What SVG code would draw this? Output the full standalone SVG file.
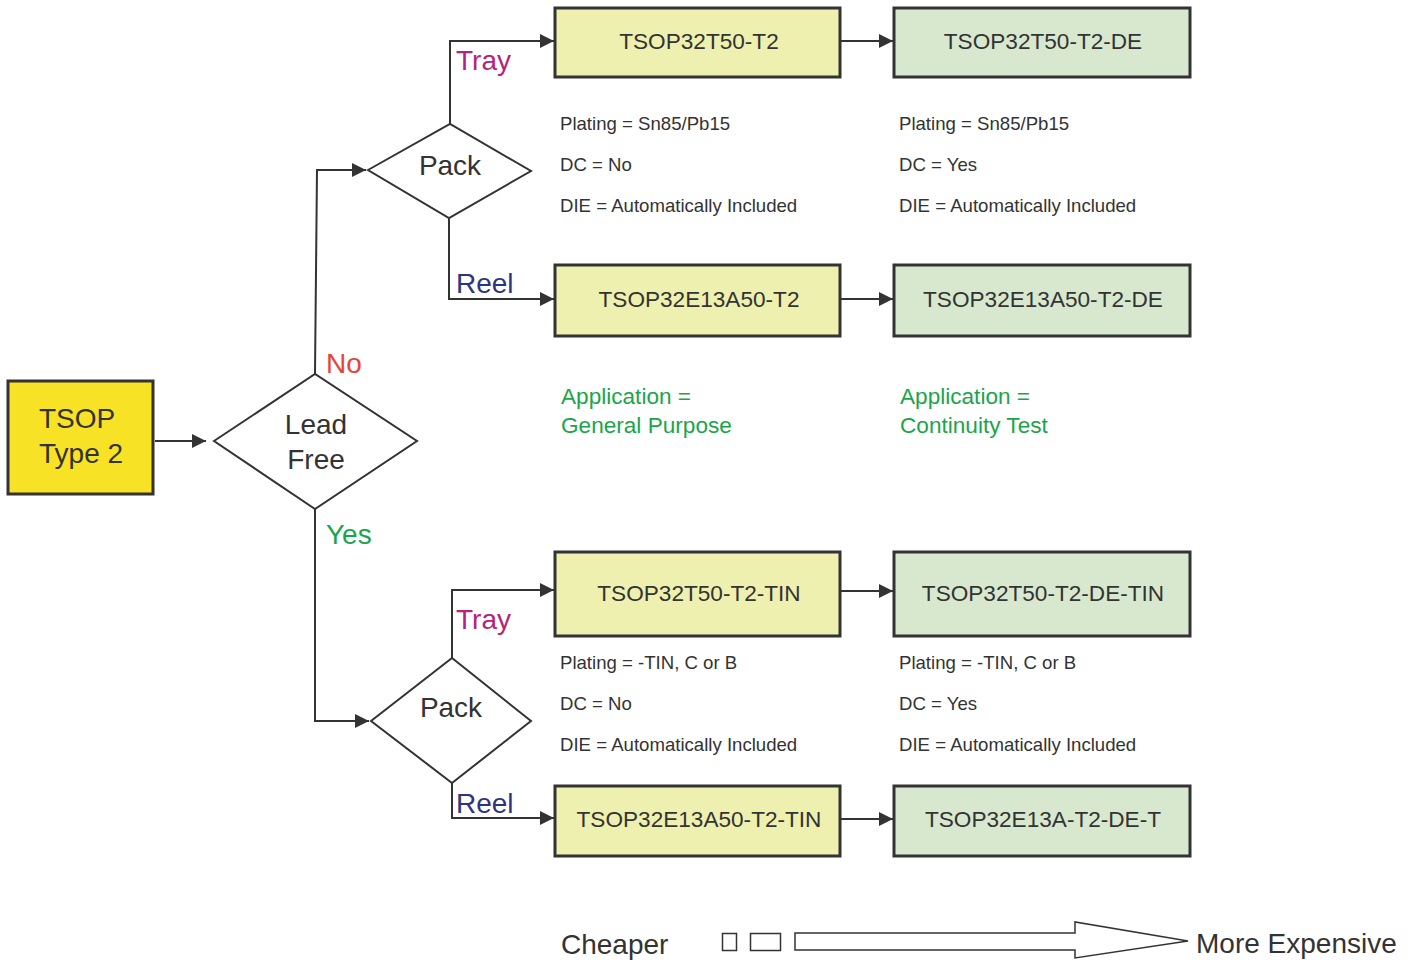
<svg xmlns="http://www.w3.org/2000/svg" width="1413" height="960" viewBox="0 0 1413 960">
<defs>
<marker id="ah" viewBox="0 0 10 10" refX="10" refY="5" markerWidth="14" markerHeight="14" markerUnits="userSpaceOnUse" orient="auto">
<path d="M0,0 L10,5 L0,10 z" fill="#333"/>
</marker>
<style>
text{font-family:"Liberation Sans",Arial,sans-serif;fill:#333}
.box{stroke:#333;stroke-width:3}
.y{fill:#eef0b0}
.g{fill:#d8e8cf}
.dia{fill:#fff;stroke:#333;stroke-width:2}
.c{fill:none;stroke:#333;stroke-width:2}
.bt{font-size:22.6px;text-anchor:middle}
.sm{font-size:18.6px}
.ap{font-size:22.6px;fill:#1ba54b}
.dt{font-size:28px;text-anchor:middle}
.lab{font-size:28px}
</style>
</defs>
<rect width="1413" height="960" fill="#fff"/>
<g id="connectors">
<path class="c" d="M155,441 H206" marker-end="url(#ah)"/>
<path class="c" d="M315,374 L317,170 H366" marker-end="url(#ah)"/>
<path class="c" d="M315,509 V721 H369" marker-end="url(#ah)"/>
<path class="c" d="M450,124 V41 H554" marker-end="url(#ah)"/>
<path class="c" d="M449,218 V299 H554" marker-end="url(#ah)"/>
<path class="c" d="M452,658 V590 H554" marker-end="url(#ah)"/>
<path class="c" d="M452,783 V818 H554" marker-end="url(#ah)"/>
<path class="c" d="M840,41 H893" marker-end="url(#ah)"/>
<path class="c" d="M840,299 H893" marker-end="url(#ah)"/>
<path class="c" d="M840,591 H893" marker-end="url(#ah)"/>
<path class="c" d="M840,819 H893" marker-end="url(#ah)"/>
<text x="326" y="373" class="lab" style="fill:#e8433a">No</text>
<text x="326" y="544" class="lab" style="fill:#1ba54b">Yes</text>
<text x="456" y="70" class="lab" style="fill:#b5237a">Tray</text>
<text x="456" y="293" class="lab" style="fill:#2e3580">Reel</text>
<text x="456" y="629" class="lab" style="fill:#b5237a">Tray</text>
<text x="456" y="813" class="lab" style="fill:#2e3580">Reel</text>
</g>
<g id="tsop">
<rect x="8" y="381" width="145" height="113" class="box" fill="#f8e225"/>
<text x="39" y="428" style="font-size:28px">TSOP</text>
<text x="39" y="463" style="font-size:28px">Type 2</text>
</g>
<g id="leadfree">
<polygon class="dia" points="214,441 315,374 417,441 315,509"/>
<text x="316" y="434" class="dt">Lead</text>
<text x="316" y="469" class="dt">Free</text>
</g>
<g id="pack1">
<polygon class="dia" points="368,170 450,124 531,171 449,218"/>
<text x="450" y="175" class="dt">Pack</text>
</g>
<g id="pack2">
<polygon class="dia" points="371,721 452,658 531,721 452,783"/>
<text x="451" y="717" class="dt">Pack</text>
</g>
<g id="n1">
<rect x="555" y="8" width="285" height="69" class="box y"/>
<text x="699" y="49" class="bt">TSOP32T50-T2</text>
</g>
<g id="n2">
<rect x="894" y="8" width="296" height="69" class="box g"/>
<text x="1043" y="49" class="bt">TSOP32T50-T2-DE</text>
</g>
<g id="n3">
<rect x="555" y="265" width="285" height="71" class="box y"/>
<text x="699" y="307" class="bt">TSOP32E13A50-T2</text>
</g>
<g id="n4">
<rect x="894" y="265" width="296" height="71" class="box g"/>
<text x="1043" y="307" class="bt">TSOP32E13A50-T2-DE</text>
</g>
<g id="n5">
<rect x="555" y="552" width="285" height="84" class="box y"/>
<text x="699" y="601" class="bt">TSOP32T50-T2-TIN</text>
</g>
<g id="n6">
<rect x="894" y="552" width="296" height="84" class="box g"/>
<text x="1043" y="601" class="bt">TSOP32T50-T2-DE-TIN</text>
</g>
<g id="n7">
<rect x="555" y="786" width="285" height="70" class="box y"/>
<text x="699" y="827" class="bt">TSOP32E13A50-T2-TIN</text>
</g>
<g id="n8">
<rect x="894" y="786" width="296" height="70" class="box g"/>
<text x="1043" y="827" class="bt">TSOP32E13A-T2-DE-T</text>
</g>
<g id="notes">
<text x="560" y="130" class="sm">Plating = Sn85/Pb15</text>
<text x="560" y="171" class="sm">DC = No</text>
<text x="560" y="212" class="sm">DIE = Automatically Included</text>
<text x="899" y="130" class="sm">Plating = Sn85/Pb15</text>
<text x="899" y="171" class="sm">DC = Yes</text>
<text x="899" y="212" class="sm">DIE = Automatically Included</text>
<text x="561" y="404" class="ap">Application =</text>
<text x="561" y="433" class="ap">General Purpose</text>
<text x="900" y="404" class="ap">Application =</text>
<text x="900" y="433" class="ap">Continuity Test</text>
<text x="560" y="669" class="sm">Plating = -TIN, C or B</text>
<text x="560" y="710" class="sm">DC = No</text>
<text x="560" y="751" class="sm">DIE = Automatically Included</text>
<text x="899" y="669" class="sm">Plating = -TIN, C or B</text>
<text x="899" y="710" class="sm">DC = Yes</text>
<text x="899" y="751" class="sm">DIE = Automatically Included</text>
</g>
<g id="legend">
<text x="561" y="954" style="font-size:28px">Cheaper</text>
<rect x="722.5" y="933.5" width="14" height="17" fill="#fff" stroke="#333" stroke-width="1.5"/>
<rect x="750.5" y="933.5" width="30" height="17" fill="#fff" stroke="#333" stroke-width="1.5"/>
<polygon points="795,933 1075,933 1075,922 1188,941 1075,958 1075,950 795,950" fill="#fff" stroke="#333" stroke-width="1.5"/>
<text x="1196" y="953" style="font-size:28px">More Expensive</text>
</g>
</svg>
